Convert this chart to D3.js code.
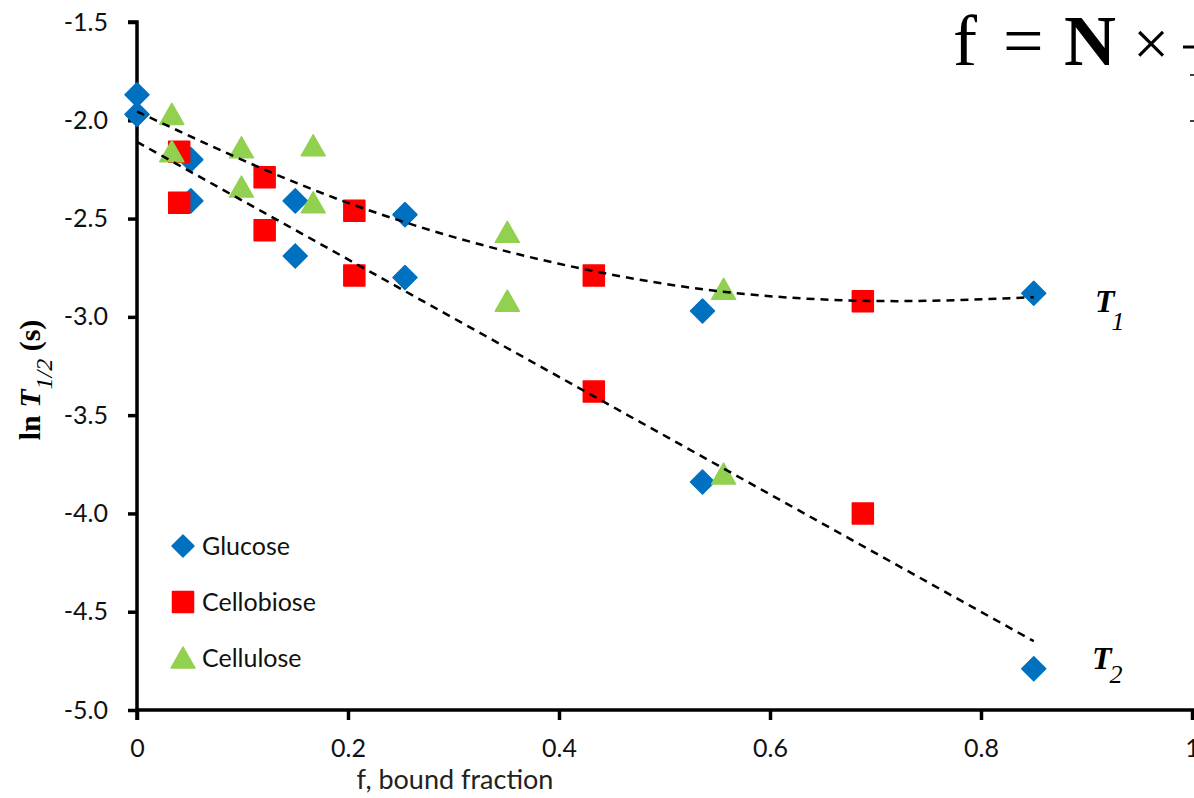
<!DOCTYPE html>
<html>
<head>
<meta charset="utf-8">
<script src="https://cdn.jsdelivr.net/npm/d3@7"></script>
<style>
  body { margin: 0; background: #fff; }
  svg { display: block; }
  .tick text { font-family: Lato, "Open Sans", sans-serif; fill: #111; }
</style>
</head>
<body>
<div id="chart"></div>
<script>
// values
const glucoseX = [0, 0, 0.051, 0.051, 0.150, 0.150, 0.254, 0.254, 0.536, 0.536, 0.850, 0.850];
const glucoseY = [-1.87, -1.97, -2.20, -2.41, -2.41, -2.69, -2.48, -2.80, -2.97, -3.84, -2.88, -4.79];

const cellobioseX = [0.040, 0.040, 0.121, 0.121, 0.206, 0.206, 0.433, 0.433, 0.688, 0.688];
const cellobioseY = [-2.16, -2.42, -2.29, -2.56, -2.46, -2.79, -2.79, -3.38, -2.92, -4.00];

const celluloseX = [0.033, 0.033, 0.099, 0.099, 0.167, 0.167, 0.351, 0.351, 0.556, 0.556];
const celluloseY = [-1.97, -2.16, -2.14, -2.34, -2.13, -2.42, -2.57, -2.92, -2.86, -3.80];

// dashed trend lines
const trendT1 = [[0, -1.955], [0.2, -2.42], [0.4, -2.73], [0.6, -2.895], [0.72, -2.92], [0.85, -2.90]];
const trendT2 = [[0, -2.11], [0.85, -4.65]];

const xTicks = [0, 0.2, 0.4, 0.6, 0.8, 1];
const yTicks = [-1.5, -2.0, -2.5, -3.0, -3.5, -4.0, -4.5, -5.0];

const series = [
    { name: 'Glucose', xs: glucoseX, ys: glucoseY, color: '#0070C0', shape: 'diamond' },
    { name: 'Cellobiose', xs: cellobioseX, ys: cellobioseY, color: '#FF0000', shape: 'square' },
    { name: 'Cellulose', xs: celluloseX, ys: celluloseY, color: '#92D050', shape: 'triangle' }
];

const width = 1194, height = 798;

const svg = d3.select('#chart').append('svg')
    .attr('width', width)
    .attr('height', height);

const x = d3.scaleLinear().domain([0, 1]).range([137, 1192]);
const y = d3.scaleLinear().domain([-5, -1.5]).range([710, 22]);

// marker shapes
function markerPath(shape) {
    if (shape === 'diamond') return 'M0,-12 L12,0 L0,12 L-12,0 Z';
    if (shape === 'square') return 'M-10.5,-10.5 H10.5 V10.5 H-10.5 Z';
    return 'M0,-11 L12,10 L-12,10 Z';
}

// axes (plain hyphen for negatives, like the original)
const xAxis = svg.append('g')
    .attr('transform', `translate(0, ${y(-5)})`)
    .call(d3.axisBottom(x).tickValues(xTicks).tickSize(10).tickPadding(19)
        .tickFormat(d => (d === 0 || d === 1) ? String(d) : d.toFixed(1)));

const yAxis = svg.append('g')
    .attr('transform', `translate(${x(0)}, 0)`)
    .call(d3.axisLeft(y).tickValues(yTicks).tickSize(9).tickPadding(20)
        .tickFormat(d => d.toFixed(1)));

[xAxis, yAxis].forEach(g => {
    g.select('.domain').attr('stroke', '#000').attr('stroke-width', 3.5);
    g.selectAll('.tick line').attr('stroke', '#000').attr('stroke-width', 3.5);
    g.selectAll('.tick text').style('font-size', '25px');
});
xAxis.select('.domain').attr('d', `M${x(0)},10V0H${width}`);
yAxis.select('.domain').attr('d', `M-9,${y(-1.5)}H0V${y(-5)}`);

// markers: glucose, then cellobiose, then cellulose on top
series.forEach(s => {
    svg.append('g').selectAll('path')
        .data(s.xs.map((v, i) => [v, s.ys[i]]))
        .enter().append('path')
            .attr('d', markerPath(s.shape))
            .attr('transform', d => `translate(${x(d[0])}, ${y(d[1])})`)
            .attr('fill', s.color)
            .attr('stroke', s.color)
            .attr('stroke-width', 1.5)
            .attr('stroke-linejoin', 'round');
});

// trend lines
const line = d3.line().x(d => x(d[0])).y(d => y(d[1])).curve(d3.curveMonotoneX);
[trendT1, trendT2].forEach(t => {
    svg.append('path')
        .attr('d', line(t))
        .attr('fill', 'none')
        .attr('stroke', '#000')
        .attr('stroke-width', 2.5)
        .attr('stroke-dasharray', '8,6');
});

// legend
const legend = svg.append('g').attr('transform', 'translate(183, 546)');
series.forEach((s, i) => {
    const row = legend.append('g').attr('transform', `translate(0, ${i * 56})`);
    row.append('path')
        .attr('d', markerPath(s.shape))
        .attr('transform', s.shape === 'diamond' ? 'scale(0.92)' : null)
        .attr('fill', s.color)
        .attr('stroke', s.color)
        .attr('stroke-width', 1.5)
        .attr('stroke-linejoin', 'round');
    row.append('text')
        .attr('x', 19)
        .attr('y', 9)
        .style('font-family', 'Lato, "Open Sans", sans-serif')
        .style('font-size', '25px')
        .attr('fill', '#111')
        .text(s.name);
});

// x axis title
svg.append('text')
    .attr('x', 455)
    .attr('y', 789)
    .attr('text-anchor', 'middle')
    .style('font-family', 'Lato, "Open Sans", sans-serif')
    .style('font-size', '27px')
    .attr('fill', '#222')
    .text('f, bound fraction');

// y axis title: ln T1/2 (s)
const yTitle = svg.append('text')
    .attr('transform', 'translate(40, 380) rotate(-90)')
    .attr('text-anchor', 'middle')
    .style('font-family', '"Liberation Serif", "DejaVu Serif", serif')
    .style('font-size', '30px')
    .style('font-weight', 'bold')
    .attr('fill', '#000');
yTitle.append('tspan').text('ln ');
yTitle.append('tspan').style('font-style', 'italic').text('T');
yTitle.append('tspan').attr('dy', 12).style('font-style', 'italic').style('font-weight', 'normal')
    .style('font-size', '24px').text('1/2');
yTitle.append('tspan').attr('dy', -12).text(' (s)');

// curve labels
const serif = '"Liberation Serif", "DejaVu Serif", serif';
function curveLabel(px, py, sub, subDx, subDy) {
    const t = svg.append('text')
        .attr('x', px).attr('y', py)
        .style('font-family', serif)
        .attr('fill', '#000');
    t.append('tspan').style('font-size', '32px').style('font-weight', 'bold').style('font-style', 'italic').text('T');
    t.append('tspan').attr('dx', subDx).attr('dy', subDy)
        .style('font-size', '26px').style('font-style', 'italic').text(sub);
}
curveLabel(1095, 312, '1', -3, 18);
curveLabel(1092, 669, '2', -2, 14);

// formula in the corner, cut off by the edge
const formula = svg.append('g').style('font-family', serif).attr('fill', '#000');
formula.append('text').attr('x', 953).attr('y', 65).style('font-size', '72px').text('f');
formula.append('text').attr('x', 1003).attr('y', 65).style('font-size', '72px').text('=');
formula.append('text').attr('x', 1064).attr('y', 65).style('font-size', '72px').style('font-weight', 'bold').text('N');
formula.append('text').attr('x', 1133).attr('y', 65).style('font-size', '64px').text('×');
formula.append('line').attr('x1', 1183).attr('x2', 1194).attr('y1', 47).attr('y2', 47)
    .attr('stroke', '#000').attr('stroke-width', 3);
formula.append('line').attr('x1', 1190).attr('x2', 1194).attr('y1', 75).attr('y2', 75)
    .attr('stroke', '#000').attr('stroke-width', 1.5);
formula.append('line').attr('x1', 1190).attr('x2', 1194).attr('y1', 121).attr('y2', 121)
    .attr('stroke', '#000').attr('stroke-width', 1.5);
</script>
</body>
</html>
